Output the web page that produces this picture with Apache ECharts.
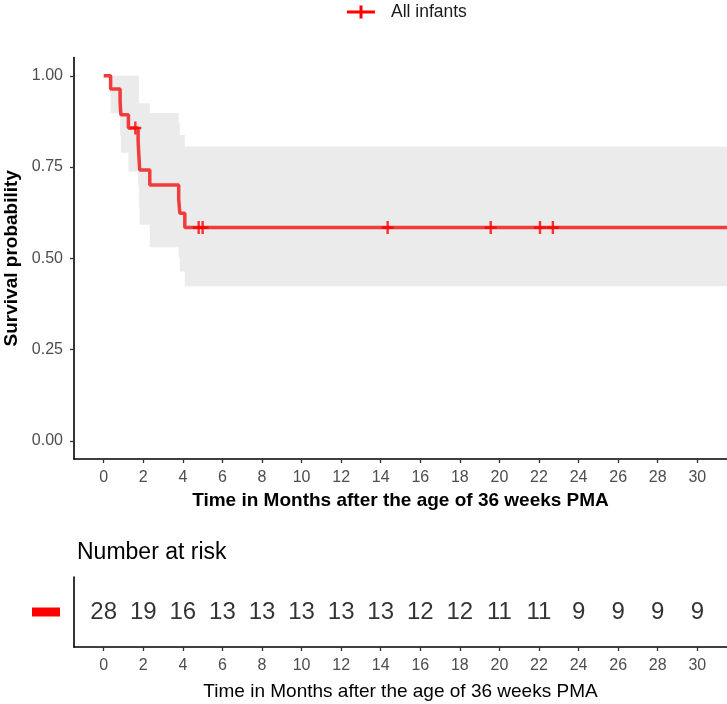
<!DOCTYPE html>
<html>
<head>
<meta charset="utf-8">
<script src="https://cdn.jsdelivr.net/npm/echarts@6/dist/echarts.min.js"></script>
<style>html,body{margin:0;padding:0;background:#fff}#c{width:727px;height:704px}</style>
</head>
<body>
<div id="c"></div>
<script>
// ---- data ----
const seriesName = 'All infants';
const xTicks = [0,2,4,6,8,10,12,14,16,18,20,22,24,26,28,30];
const yTicks = [0,0.25,0.5,0.75,1];
const kmTime  = [0, 0.35, 0.83, 0.87, 1.25, 1.74, 1.78, 1.82, 2.33, 3.79, 3.85, 4.10, 31.5];
const kmSurv  = [1, 0.964, 0.929, 0.893, 0.857, 0.820, 0.780, 0.742, 0.701, 0.662, 0.623, 0.584, 0.584];
const ciUpper = [1, 1, 1, 1, 1, 1, 0.925, 0.925, 0.898, 0.870, 0.838, 0.806, 0.806];
const ciLower = [1, 0.898, 0.838, 0.789, 0.738, 0.700, 0.640, 0.592, 0.530, 0.500, 0.464, 0.423, 0.423];
const censorTime = [1.60, 4.80, 5.00, 14.35, 19.56, 22.05, 22.70];
const censorSurv = [0.857, 0.584, 0.584, 0.584, 0.584, 0.584, 0.584];
const riskTime = [0,2,4,6,8,10,12,14,16,18,20,22,24,26,28,30];
const riskCount = [28,19,16,13,13,13,13,13,12,12,11,11,9,9,9,9];

const FONT = 'Liberation Sans, Arial, sans-serif';
const RED = '#FF0000';
const LINE_RED = '#F03C3C';
const plusPath = 'path://M4,0H6V4H10V6H6V10H4V6H0V4H4Z';

const chart = echarts.init(document.getElementById('c'), null, {renderer: 'canvas'});

const axisLineStyle = {color: '#000', width: 1.6};
const tickStyle = {color: '#333', width: 1.3};

const option = {
  animation: false,
  backgroundColor: '#fff',
  textStyle: {fontFamily: FONT},
  title: [{
    text: 'Number at risk',
    left: 72, top: 536,
    textStyle: {fontFamily: FONT, fontSize: 23, fontWeight: 'normal', color: '#000'}
  }],
  legend: {
    left: 342, top: -2,
    itemWidth: 28, itemHeight: 13,
    data: [{name: seriesName, icon: 'path://M0,5H28V8H0Z M12.5,0H15.5V13H12.5Z', itemStyle: {color: RED}}],
    textStyle: {fontFamily: FONT, fontSize: 17.5, color: '#1a1a1a', padding: [0,0,0,11]}
  },
  grid: [
    {left: 74, top: 57.5, width: 653, height: 401.5, containLabel: false, outerBoundsMode: 'none'},
    {left: 74, top: 577, width: 653, height: 70, containLabel: false, outerBoundsMode: 'none'}
  ],
  xAxis: [{
    gridIndex: 0, type: 'value', min: -1.5, max: 31.5,
    splitLine: {show: false},
    axisLine: {show: true, onZero: false, lineStyle: axisLineStyle},
    axisTick: {show: true, length: 4, lineStyle: tickStyle, customValues: xTicks},
    axisLabel: {customValues: xTicks, color: '#4D4D4D', fontSize: 16, margin: 11, fontFamily: FONT},
    name: 'Time in Months after the age of 36 weeks PMA',
    nameLocation: 'middle', nameGap: 21,
    nameTextStyle: {fontFamily: FONT, fontSize: 19, fontWeight: 'bold', color: '#000'}
  }, {
    gridIndex: 1, type: 'value', min: -1.5, max: 31.5,
    splitLine: {show: false},
    axisLine: {show: true, onZero: false, lineStyle: axisLineStyle},
    axisTick: {show: true, length: 4, lineStyle: tickStyle, customValues: xTicks},
    axisLabel: {customValues: xTicks, color: '#4D4D4D', fontSize: 16, margin: 11, fontFamily: FONT},
    name: 'Time in Months after the age of 36 weeks PMA',
    nameLocation: 'middle', nameGap: 35,
    nameTextStyle: {fontFamily: FONT, fontSize: 19, fontWeight: 'normal', color: '#000'}
  }],
  yAxis: [{
    gridIndex: 0, type: 'value', min: -0.05, max: 1.05,
    splitLine: {show: false},
    axisLine: {show: true, onZero: false, lineStyle: axisLineStyle},
    axisTick: {show: true, length: 4, lineStyle: tickStyle, customValues: yTicks},
    axisLabel: {customValues: yTicks, color: '#4D4D4D', fontSize: 16, margin: 11, fontFamily: FONT,
      formatter: v => v.toFixed(2)},
    name: 'Survival probability',
    nameLocation: 'middle', nameGap: 52, nameRotate: 90,
    nameTextStyle: {fontFamily: FONT, fontSize: 19, fontWeight: 'bold', color: '#000'}
  }, {
    gridIndex: 1, type: 'value', min: 0, max: 1,
    splitLine: {show: false},
    axisLine: {show: true, onZero: false, lineStyle: axisLineStyle},
    axisTick: {show: false},
    axisLabel: {customValues: [0.5], margin: 14, formatter: () => '{a|}',
      rich: {a: {backgroundColor: RED, width: 28, height: 9}}}
  }],
  series: [
    {
      type: 'custom',
      name: 'ci',
      xAxisIndex: 0, yAxisIndex: 0,
      z: 1,
      silent: true,
      data: [[0, 1]],
      renderItem: function (params, api) {
        const pts = [];
        for (let i = 0; i < kmTime.length; i++) {
          if (i > 0) pts.push(api.coord([kmTime[i], ciUpper[i - 1]]));
          pts.push(api.coord([kmTime[i], ciUpper[i]]));
        }
        for (let i = kmTime.length - 1; i >= 0; i--) {
          pts.push(api.coord([kmTime[i], ciLower[i]]));
          if (i > 0) pts.push(api.coord([kmTime[i], ciLower[i - 1]]));
        }
        return {type: 'polygon', shape: {points: pts}, style: {fill: '#EBEBEB', stroke: null}};
      }
    },
    {
      type: 'line',
      name: seriesName,
      xAxisIndex: 0, yAxisIndex: 0,
      step: 'end',
      z: 3,
      symbol: 'none',
      lineStyle: {color: LINE_RED, width: 3.5},
      itemStyle: {color: RED},
      data: kmTime.map((t, i) => [t, kmSurv[i]])
    },
    {
      type: 'scatter',
      name: 'censor',
      xAxisIndex: 0, yAxisIndex: 0,
      z: 4,
      symbol: plusPath,
      symbolSize: [12, 13],
      itemStyle: {color: RED},
      data: censorTime.map((t, i) => [t, censorSurv[i]])
    },
    {
      type: 'scatter',
      name: 'risk',
      xAxisIndex: 1, yAxisIndex: 1,
      symbolSize: 1,
      itemStyle: {color: 'rgba(0,0,0,0)'},
      label: {show: true, position: 'inside', formatter: p => String(p.value[2]),
        fontFamily: FONT, fontSize: 24, color: '#000'},
      data: riskTime.map((t, i) => [t, 0.5, riskCount[i]])
    }
  ]
};
chart.setOption(option);
</script>
</body>
</html>
